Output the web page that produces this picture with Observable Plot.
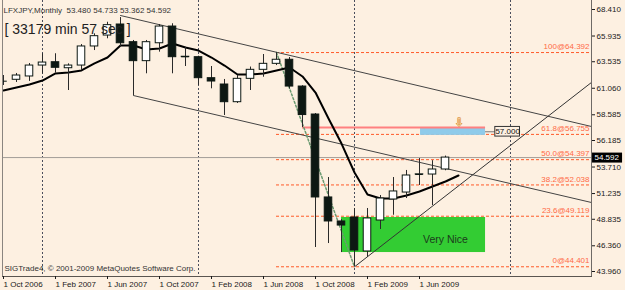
<!DOCTYPE html>
<html><head><meta charset="utf-8">
<script src="https://cdn.jsdelivr.net/npm/d3@7"></script>
<script src="https://cdn.jsdelivr.net/npm/@observablehq/plot@0.6"></script>
<style>
html,body{margin:0;padding:0;background:#fdf0e1;}
#chart svg{display:block;}
</style></head><body><div id="chart"></div>
<script>
// ---- data (monthly bars, index 0 = Oct 2006) ----
const monthIndex = d3.range(35);
const opens  = [61.72,61.85,62.16,63.18,63.49,62.93,63.18,64.96,65.98,67.01,65.36,63.59,65.26,66.82,64.00,63.96,62.00,61.41,59.76,61.94,62.78,63.34,63.72,61.22,58.61,50.87,48.63,49.00,45.83,48.72,50.68,51.33,53.01,53.01,53.480];
const highs  = [62.25,62.44,63.37,64.28,64.28,63.34,65.14,66.14,67.22,67.66,65.52,65.52,67.01,67.08,64.89,64.05,63.09,61.88,62.25,63.04,64.21,64.39,63.93,61.30,58.70,52.73,48.80,49.84,49.84,51.05,52.73,53.39,54.50,54.30,54.733];
const lows   = [61.32,61.60,61.70,62.40,62.47,60.85,62.72,64.58,65.68,64.90,60.38,62.41,64.43,62.41,63.09,61.32,61.01,58.52,59.64,60.85,62.09,63.18,61.00,57.40,46.20,46.57,45.73,44.40,45.27,47.88,49.21,50.77,51.99,50.12,53.362];
const closes = [61.72,62.25,63.18,63.46,62.97,63.18,64.96,65.92,66.95,65.26,63.59,65.36,66.82,63.96,63.97,62.00,61.69,59.76,61.94,62.78,63.34,63.72,61.22,58.56,50.87,48.63,48.25,45.92,48.91,50.77,51.43,52.92,53.03,53.48,54.592];
const maValues = [60.85,61.13,61.41,61.78,62.44,62.53,62.72,63.38,63.93,65.05,65.05,64.68,64.77,65.24,64.86,64.58,63.93,63.18,62.34,62.34,62.44,62.72,63.00,62.16,60.66,58.24,55.90,53.20,51.15,50.77,50.77,51.05,51.43,51.89,52.36,52.92];

const xTicks = [0,4,8,12,16,20,24,28,32];
const xTickLabels = ["1 Oct 2006","1 Feb 2007","1 Jun 2007","1 Oct 2007","1 Feb 2008","1 Jun 2008","1 Oct 2008","1 Feb 2009","1 Jun 2009"];
const yearStarts = [3,15,27,39];
const yTicks = [68.410,65.935,63.535,61.060,58.585,56.185,53.710,51.235,48.835,46.360,43.960];

const fibLevels = ["100","61.8","50.0","38.2","23.6","0"];
const fibValues = [64.392,56.755,54.397,52.038,49.119,44.401];
const fibStart = 21;
const fibTrend = [{i:21,p:64.392},{i:27,p:44.401}];

const upperChannel = [{i:9,p:67.85},{i:46,p:57.27}];
const lowerChannel = [{i:10,p:60.38},{i:46,p:50.18}];
const riseLine = [{i:27,p:44.40},{i:46,p:62.33}];

const bidPrice = 54.592;
const targetLine = {i1:23, i2:37.08, p:57.40};
const targetBox = {i1:32.08, i2:37.08, p1:56.66, p2:57.40};
const targetLabel = {i:38.78, p:57.000, text:"57.000"};
const arrowMark = {i:35.04, p:57.40, text:"⇩"};
const zone = {i1:26, i2:37.08, p1:45.73, p2:49.00, text:"Very Nice", ti:34, tp:46.95};

const titleText = "LFXJPY,Monthly  53.480 54.733 53.362 54.592";
const timerText = "[ 33179 min 57 sec ]";
const copyText = "SIGTrade4, © 2001-2009 MetaQuotes Software Corp.";

// ---- build ----
const candles = monthIndex.map(i => ({i, o:opens[i], h:highs[i], l:lows[i], c:closes[i]}));
const ma = maValues.map((v,i)=>({i, v}));
const fib = fibLevels.map((l,k)=>({label:`${l}@${fibValues[k].toFixed(3)}`, v:fibValues[k]}));
const xDom = [-1/13, 588/13];
const yDom = [68.41-267/10.716, 68.41+9/10.716];
const dark = "#0d1813";
const font = "Liberation Sans, Arial, sans-serif";
const bw = 0.29;

const chart = Plot.plot({
  width: 625, height: 290,
  marginLeft: 2, marginRight: 34, marginTop: 0, marginBottom: 14,
  x: {type:"linear", domain: xDom, axis: null},
  y: {type:"linear", domain: yDom, axis: null},
  style: {background:"#fdf0e1", fontFamily: font, color:"#1a1a1a"},
  marks: [
    Plot.ruleX(yearStarts, {stroke:"#4a4e5c", strokeDasharray:"2,2"}),
    Plot.ruleY(fib, {y:"v", x1:()=>fibStart, x2:()=>xDom[1], stroke:"#ff5a28", strokeDasharray:"3,2"}),
    Plot.text(fib, {y:"v", text:"label", frameAnchor:"right", textAnchor:"end", dx:-2, dy:-6, fill:"#ff6a45", fontSize:8}),
    Plot.ruleY([bidPrice], {stroke:"#a39d98"}),
    Plot.rect([zone], {x1:"i1", x2:"i2", y1:"p1", y2:"p2", fill:"#33cc33"}),
    Plot.text([zone], {x:"ti", y:"tp", text:"text", fontSize:10.5, fill:"#1c3a1c"}),
    Plot.rect([targetBox], {x1:"i1", x2:"i2", y1:"p1", y2:"p2", fill:"#8fcbea"}),
    Plot.ruleY([targetLine], {y:"p", x1:"i1", x2:"i2", stroke:"#ff8080", strokeWidth:2}),
    Plot.text([arrowMark], {x:"i", y:"p", text:"text", fill:"#fff3d0", stroke:"#d07000", strokeWidth:0.8, fontSize:11, lineAnchor:"bottom", dy:-1, fontFamily:"DejaVu Sans"}),
    Plot.ruleY([targetLabel], {y:"p", x1:()=>targetBox.i2, x2:d=>d.i-0.95, stroke:"#777"}),
    Plot.rect([targetLabel], {x1:d=>d.i-0.95, x2:d=>d.i+0.95, y1:d=>d.p-0.45, y2:d=>d.p+0.45, fill:"#fdf0e1", stroke:"#333"}),
    Plot.text([targetLabel], {x:"i", y:"p", text:"text", fontSize:8, fill:"#111"}),
    Plot.line(upperChannel, {x:"i", y:"p", stroke:"#444", strokeWidth:1, clip:true}),
    Plot.line(lowerChannel, {x:"i", y:"p", stroke:"#444", strokeWidth:1, clip:true}),
    Plot.line(fibTrend, {x:"i", y:"p", stroke:"#6a9a70", strokeDasharray:"2,2"}),
    Plot.line(ma, {x:"i", y:"v", stroke:"#000", strokeWidth:2, clip:true}),
    Plot.ruleX(candles, {x:"i", y1:"l", y2:"h", stroke:"#2a2a2a", clip:true}),
    Plot.rect(candles, {x1:d=>d.i-bw, x2:d=>d.i+bw, y1:"o", y2:"c", fill:d=>d.c>=d.o?"#ffffff":dark, stroke:dark, clip:true}),
    Plot.ruleY(candles.filter(d=>Math.abs(d.c-d.o)<0.05), {y:"o", x1:d=>d.i-bw, x2:d=>d.i+bw, stroke:dark, clip:true}),
    Plot.line(riseLine, {x:"i", y:"p", stroke:"#333", strokeWidth:1, clip:true}),
    Plot.frame({anchor:"left", stroke:"#8a8580"}),
    Plot.frame({anchor:"right", stroke:"#6f6a66"}),
    Plot.frame({anchor:"bottom", stroke:"#5a5550"}),
    Plot.axisY(yTicks, {anchor:"right", tickFormat:d=>d.toFixed(3), tickSize:3, tickPadding:2, fontSize:8}),
    Plot.axisX(xTicks, {anchor:"bottom", tickFormat:d=>xTickLabels[xTicks.indexOf(d)], textAnchor:"start", tickSize:3, tickPadding:2, fontSize:8}),
    Plot.ruleY([bidPrice], {x1:()=>45.31, x2:()=>47.62, stroke:"#000", strokeWidth:10}),
    Plot.text([bidPrice], {y:d=>d, frameAnchor:"right", textAnchor:"start", dx:3, fill:"#fff", fontSize:8}),
    Plot.text([timerText], {frameAnchor:"top-left", textAnchor:"start", dx:2, dy:24, fontSize:14, fill:"#222"}),
    Plot.text([titleText], {frameAnchor:"top-left", textAnchor:"start", dx:1, dy:7, fontSize:8, fill:"#333"}),
    Plot.text([copyText], {frameAnchor:"bottom-left", textAnchor:"start", dx:2, dy:-6, fontSize:8, fill:"#333"})
  ]
});
document.getElementById("chart").appendChild(chart);
</script></body></html>
